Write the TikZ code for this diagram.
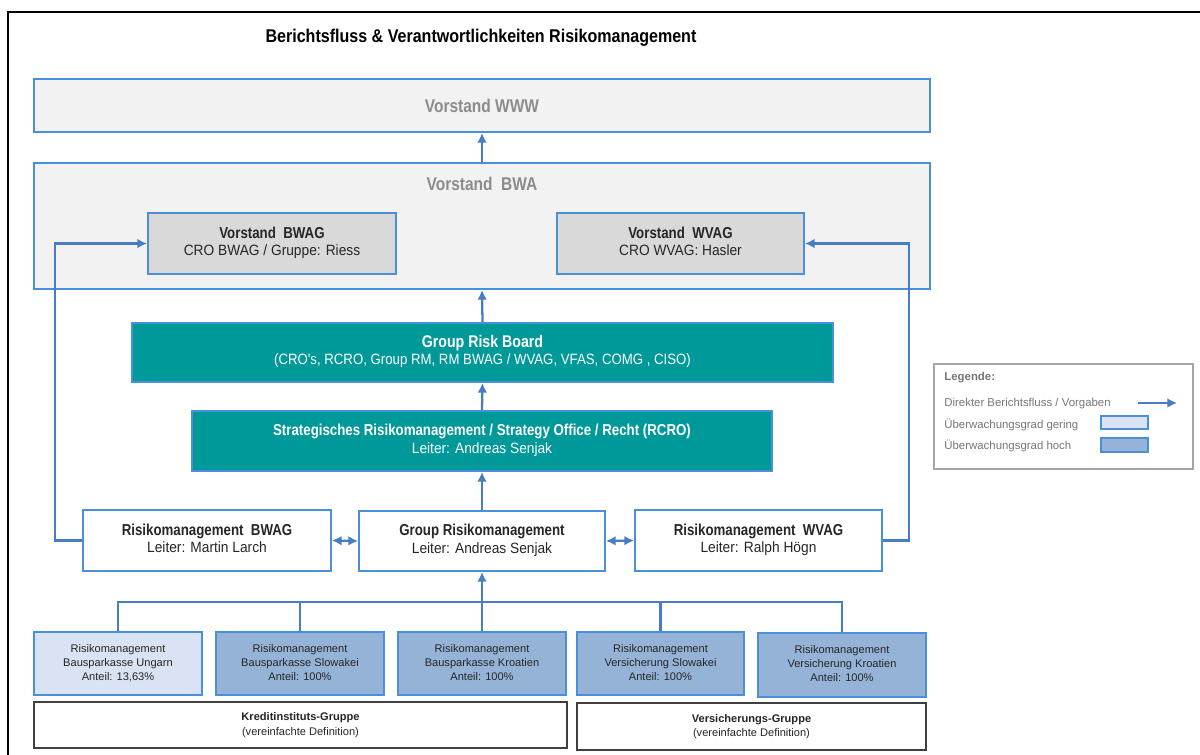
\documentclass[tikz,border=0pt]{standalone}
\usepackage{fontspec}
\setmainfont{Liberation Sans}
\newfontfamily\cnd{Liberation Sans}[FakeStretch=0.84]
\newfontfamily\cnt{Liberation Sans}[FakeStretch=0.87]
\newfontfamily\cnm{Liberation Sans}[FakeStretch=0.885]
\newfontfamily\cnr{Liberation Sans}[FakeStretch=0.92]
\newcommand\hdf{\cnd\bfseries\fontsize{9}{10}\selectfont}
\newcommand\lines[1]{\begin{tabular}{@{}c@{}}#1\end{tabular}}
\newcommand\pbox[7]{%
  \pgfmathsetmacro\pbcx{(#3+#5)/2}%
  \pgfmathsetmacro\pbcy{(#4+#6)/2}%
  \pgfmathsetmacro\pbw{(#5-#3)*0.02}%
  \pgfmathsetmacro\pbh{(#6-#4)*0.02}%
  \node[#1, minimum width=\pbw cm, minimum height=\pbh cm] (#2) at (\pbcx,\pbcy) {#7};}
\usetikzlibrary{arrows.meta,calc}
\definecolor{boxblue}{RGB}{74,144,217}
\definecolor{lineblue}{RGB}{70,125,195}
\definecolor{panel}{RGB}{242,242,242}
\definecolor{grayfill}{RGB}{217,217,217}
\definecolor{tealc}{RGB}{0,153,153}
\definecolor{lightb}{RGB}{218,227,243}
\definecolor{midb}{RGB}{149,179,215}
\definecolor{txt}{RGB}{38,38,38}
\definecolor{softtxt}{RGB}{140,140,140}
\definecolor{legtxt}{RGB}{118,118,118}
\definecolor{grpline}{RGB}{64,64,64}
\definecolor{legline}{RGB}{166,166,166}
\tikzset{
  framebox/.style={draw=black, line width=1.2pt},
  bbox/.style={draw=boxblue, line width=1.1pt, inner sep=0pt, text=txt,
    font=\cnr\fontsize{8.5}{9.8}\selectfont},
  vbox/.style={bbox, fill=panel},
  gbox/.style={bbox, fill=grayfill},
  tbox/.style={bbox, fill=tealc, text=white},
  wbox/.style={bbox, fill=white},
  lowbox/.style={bbox, fill=lightb, font=\fontsize{6.3}{7.9}\selectfont},
  highbox/.style={bbox, fill=midb, font=\fontsize{6.3}{7.9}\selectfont},
  grpbox/.style={draw=grpline, line width=1pt, fill=white, inner sep=0pt,
    text=txt, font=\fontsize{6.3}{8.5}\selectfont},
  legbox/.style={draw=legline, line width=0.7pt, inner sep=0pt},
  legtext/.style={anchor=west, inner sep=0pt, text=legtxt, font=\fontsize{6.5}{7.5}\selectfont},
  swatch/.style={draw=boxblue, line width=1pt, inner sep=0pt},
  tip/.tip={Latex[length=5.5pt,width=5.5pt]},
  arr/.style={draw=lineblue, line width=1.3pt, -tip},
  darr/.style={draw=lineblue, line width=1.3pt, tip-tip},
  conn/.style={draw=lineblue, line width=1.3pt},
}
\begin{document}
\begin{tikzpicture}[x=0.02cm,y=-0.02cm]
\useasboundingbox (0,0) rectangle (1200,754);
\draw[framebox] (8,760) -- (8,12) -- (1210,12);

\node[inner sep=0pt, text=black, font=\cnt\bfseries\fontsize{10.5}{12}\selectfont] (title) at (481,38)
  {Berichtsfluss \& Verantwortlichkeiten Risikomanagement};

% Vorstand boxes
\pbox{vbox, text=softtxt, font=\cnd\bfseries\fontsize{10.5}{12}\selectfont}{www}{34}{79}{930}{132}{Vorstand WWW}
\pbox{vbox}{bwa}{34}{163}{930}{289}{}
\node[inner sep=0pt, text=softtxt, font=\cnd\bfseries\fontsize{10.5}{12}\selectfont] (bwat) at (482,184) {Vorstand\ \ BWA};
\pbox{gbox}{bwag}{148}{213}{396}{274}{\lines{{\hdf Vorstand\ \ BWAG}\\CRO BWAG / Gruppe: Riess}}
\pbox{gbox}{wvag}{557}{213}{804}{274}{\lines{{\hdf Vorstand\ \ WVAG}\\CRO WVAG: Hasler}}

% Teal boxes
\pbox{tbox}{grb}{132}{323}{833}{382}{\lines{{\cnd\bfseries\fontsize{9.6}{10}\selectfont Group Risk Board}\\{\cnm (CRO's, RCRO, Group RM, RM BWAG / WVAG, VFAS, COMG , CISO)}}}
\pbox{tbox}{strat}{192}{411}{772}{471}{\lines{{\hdf Strategisches Risikomanagement / Strategy Office / Recht (RCRO)}\\Leiter: Andreas Senjak}}

% RM row
\pbox{wbox}{rmb}{83}{510}{331}{571}{\lines{{\hdf Risikomanagement\ \ BWAG}\\Leiter: Martin Larch}}
\pbox{wbox}{grm}{359}{511}{605}{571}{\lines{{\hdf Group Risikomanagement}\\Leiter: Andreas Senjak}}
\pbox{wbox}{rmw}{635}{510}{882}{571}{\lines{{\hdf Risikomanagement\ \ WVAG}\\Leiter: Ralph Högn}}

% Bottom boxes
\pbox{lowbox}{ung}{34}{632}{202}{695}{\lines{Risikomanagement\\Bausparkasse Ungarn\\Anteil: 13,63\%}}
\pbox{highbox}{bslo}{216}{632}{384}{695}{\lines{Risikomanagement\\Bausparkasse Slowakei\\Anteil: 100\%}}
\pbox{highbox}{bkro}{398}{632}{566}{695}{\lines{Risikomanagement\\Bausparkasse Kroatien\\Anteil: 100\%}}
\pbox{highbox}{vslo}{577}{632}{744}{695}{\lines{Risikomanagement\\Versicherung Slowakei\\Anteil: 100\%}}
\pbox{highbox}{vkro}{758}{633}{926}{697}{\lines{Risikomanagement\\Versicherung Kroatien\\Anteil: 100\%}}

\pbox{grpbox}{kig}{34}{702}{567}{748}{\lines{{\bfseries Kreditinstituts-Gruppe}\\(vereinfachte Definition)}}
\pbox{grpbox}{vg}{577}{703}{926}{750}{\lines{{\bfseries Versicherungs-Gruppe}\\(vereinfachte Definition)}}

% Vertical flow
\draw[arr] (bwa.north) -- (www.south);
\draw[arr] (grb.north) -- (bwa.south);
\draw[arr] (strat.north) -- (grb.south);
\draw[arr] (grm.north) -- (strat.south);
\draw[arr] (bkro.north) -- (grm.south);

% Bus
\coordinate (bus) at (482,602);
\draw[conn] (ung.north) -- (ung.north |- bus) -- (vkro.north |- bus) -- (vkro.north);
\draw[conn] (bslo.north) -- (bslo.north |- bus);
\draw[conn] (vslo.north) -- (vslo.north |- bus);

% Side connectors
\coordinate (lx) at (55,541);
\coordinate (rx) at (909,541);
\draw[arr] (rmb.west) -- (rmb.west -| lx) |- (bwag.west);
\draw[arr] (rmw.east) -- (rmw.east -| rx) |- (wvag.east);

% Double arrows
\draw[darr] (rmb.east) -- (grm.west);
\draw[darr] (grm.east) -- (rmw.west);

% Legend
\pbox{legbox}{leg}{934}{364}{1193}{469}{}
\node[legtext, font=\bfseries\fontsize{6.5}{7.5}\selectfont] (legt) at (944,378) {Legende:};
\node[legtext] (leg1) at (944,404) {Direkter Berichtsfluss / Vorgaben};
\node[legtext] (leg2) at (944,425) {Überwachungsgrad gering};
\node[legtext] (leg3) at (944,446) {Überwachungsgrad hoch};
\coordinate (la1) at (1138,403);
\coordinate (la2) at (1177,403);
\draw[arr] (la1) -- (la2);
\pbox{swatch, fill=lightb}{lg1}{1101}{416}{1148}{429}{}
\pbox{swatch, fill=midb}{lg2}{1101}{438}{1148}{452}{}
\end{tikzpicture}
\end{document}
